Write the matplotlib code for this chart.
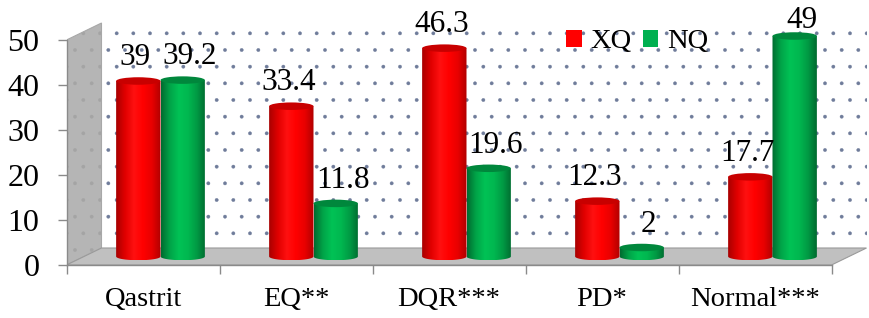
import numpy as np
import matplotlib
matplotlib.use("Agg")
import matplotlib.pyplot as plt
from matplotlib.patches import Rectangle, Polygon, Ellipse, PathPatch, Patch
from matplotlib.path import Path
from matplotlib.colors import LinearSegmentedColormap

# ---------------- data ----------------
categories = ["Qastrit", "EQ**", "DQR***", "PD*", "Normal***"]
series_names = ["XQ", "NQ"]
xq_values = [39, 33.4, 46.3, 12.3, 17.7]
nq_values = [39.2, 11.8, 19.6, 2, 49]
yticks = [0, 10, 20, 30, 40, 50]

# ---------------- style ----------------
plt.rcParams['font.family'] = ['Liberation Serif', 'DejaVu Serif']
plt.rcParams['hatch.linewidth'] = 0.25
FS_X = 20.5
FS_Y = 23
FS_V = 22.5
FS_L = 20.5

W, H = 869, 318
fig = plt.figure(figsize=(W / 100, H / 100), dpi=100)
x0_px, y0_px = 66.5, 265
ux, uy = 153.0, 4.5          # px per category, px per value unit
xmax, ymax = 5.24, 55
ax = fig.add_axes([x0_px / W, (H - y0_px) / H, xmax * ux / W, ymax * uy / H])
ax.set_xlim(0, xmax)
ax.set_ylim(0, ymax)
ax.patch.set_visible(False)

n = len(categories)
top = yticks[-1]
dx = 35 / ux                  # depth offset (x)
dy = 17 / uy                  # depth offset (y)

# walls and floor
ax.add_patch(Rectangle((dx, dy), n, top, facecolor='white', edgecolor='#6f7c9a',
                       hatch='.', lw=0, zorder=0))
ax.add_patch(Polygon([(0, 0), (dx, dy), (dx, top + dy), (0, top)], closed=True,
                     facecolor='#b5b5b5', edgecolor='#a4a4a4', hatch='.', lw=0, zorder=1))
ax.add_patch(Polygon([(0, 0), (dx, dy), (dx, top + dy), (0, top)], closed=True,
                     facecolor='none', edgecolor='#a8a8a8', lw=0.8, zorder=1))
ax.add_patch(Polygon([(0, 0), (n, 0), (n + dx, dy), (dx, dy)], closed=True,
                     facecolor='#c0c0c0', edgecolor='#9a9a9a', lw=0.8, zorder=1))

# cylinder colors
red_cmap = LinearSegmentedColormap.from_list('r', ['#a80000', '#e00000', '#ff1010', '#ff0000', '#e80000', '#b00000'])
green_cmap = LinearSegmentedColormap.from_list('g', ['#006b30', '#00a448', '#00c255', '#00b850', '#009a44', '#006a2f'])
red_top = '#c80000'
green_top = '#00873c'

bw = 0.29
eh = 7.5 / uy
base = dy / 2
grad = np.linspace(0, 1, 256).reshape(1, -1)


def cylinder(cx, val, cmap, topc, z):
    left, right = cx - bw / 2, cx + bw / 2
    t = base + val
    th = np.linspace(np.pi, 2 * np.pi, 60)
    arc_x = cx + (bw / 2) * np.cos(th)
    arc_y = base + (eh / 2) * np.sin(th)
    verts = [(left, t)] + list(zip(arc_x, arc_y)) + [(right, t), (left, t)]
    codes = [Path.MOVETO] + [Path.LINETO] * (len(verts) - 2) + [Path.CLOSEPOLY]
    clip = PathPatch(Path(verts, codes), transform=ax.transData, facecolor='none', lw=0)
    im = ax.imshow(grad, cmap=cmap, aspect='auto', extent=[left, right, base - eh / 2, t],
                   interpolation='bilinear', zorder=z, origin='lower')
    im.set_clip_path(clip)
    ax.add_patch(Ellipse((cx, t), bw, eh, facecolor=topc, edgecolor='none', zorder=z + 0.01))


label_gap = 3.5
label_max = top + dy - 1.1
shift_r, shift_g = -3 / ux, 7 / ux
for i in range(n):
    cx_r = i + 0.5 + dx / 2 - bw / 2
    cx_g = i + 0.5 + dx / 2 + bw / 2
    cylinder(cx_r, xq_values[i], red_cmap, red_top, 3 + i * 0.1)
    cylinder(cx_g, nq_values[i], green_cmap, green_top, 3.05 + i * 0.1)
    for cx, v in ((cx_r + shift_r, xq_values[i]), (cx_g + shift_g, nq_values[i])):
        ax.text(cx, min(base + v + label_gap, label_max), f"{v:g}", ha='center', va='baseline',
                fontsize=FS_V, zorder=6, color='black')

ax.set_xlim(0, xmax)
ax.set_ylim(0, ymax)

# axes styling
for s in ('top', 'right'):
    ax.spines[s].set_visible(False)
for s in ('left', 'bottom'):
    ax.spines[s].set_color('#8a8a8a')
    ax.spines[s].set_linewidth(1.0)
    ax.spines[s].set_zorder(2)
ax.spines['left'].set_bounds(0, top)
ax.spines['bottom'].set_bounds(0, n)

ax.set_yticks(yticks)
ax.set_yticklabels([str(v) for v in yticks], fontsize=FS_Y)
ax.tick_params(axis='y', direction='out', length=6.5, width=1, color='#8a8a8a', pad=13)

ax.set_xticks(np.arange(n + 1))
ax.set_xticklabels([])
ax.tick_params(axis='x', which='major', direction='out', length=6.5, width=1, color='#8a8a8a')
ax.set_xticks(np.arange(n) + 0.5, minor=True)
ax.set_xticklabels(categories, minor=True, fontsize=FS_X)
ax.tick_params(axis='x', which='minor', length=0, pad=16)

handles = [Patch(facecolor='#ff0000', edgecolor='none'), Patch(facecolor='#00b050', edgecolor='none')]
fig.legend(handles, series_names, loc='center left', bbox_to_anchor=(566 / W, 1 - 42 / H),
           bbox_transform=fig.transFigure, frameon=False, ncol=2, fontsize=FS_L,
           handlelength=0.55, handleheight=0.55, handletextpad=0.3, columnspacing=0.4,
           borderaxespad=0, borderpad=0)

fig.savefig('out.png', dpi=100, facecolor='white')
